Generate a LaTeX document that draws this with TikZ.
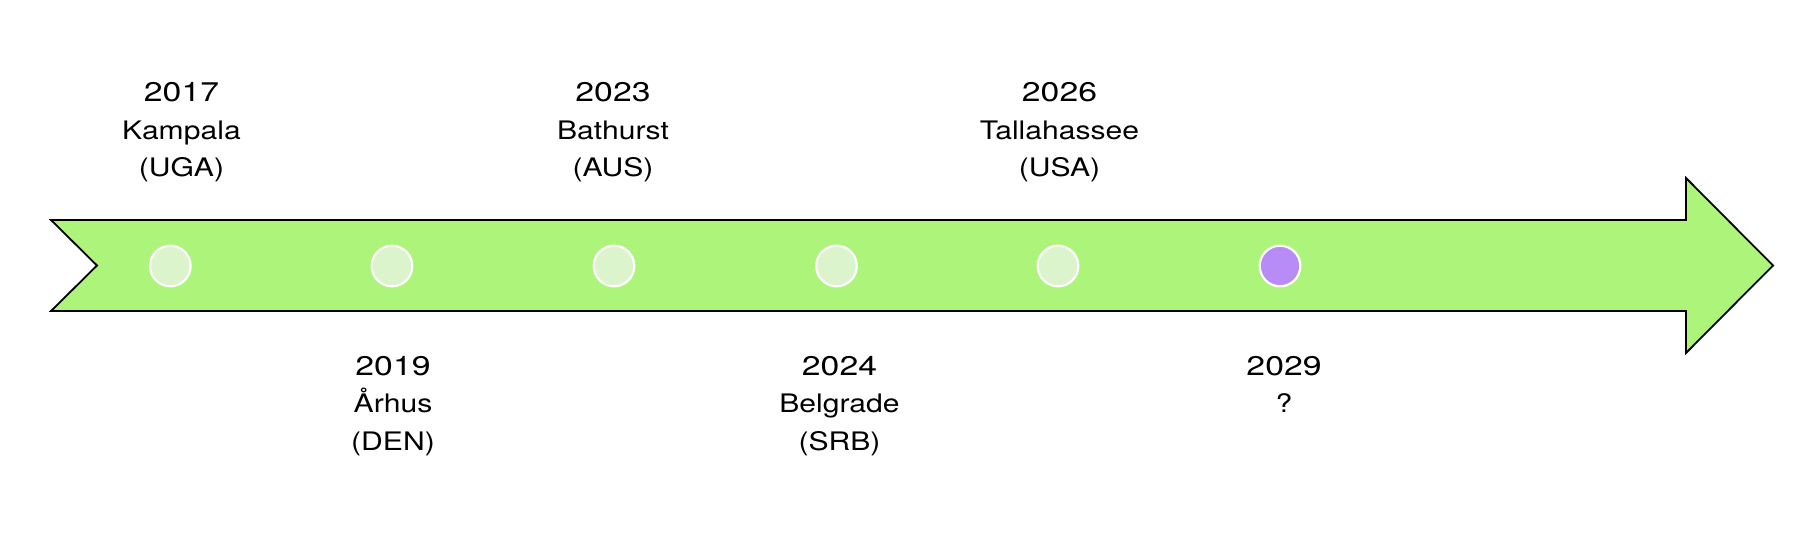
\documentclass[tikz,border=0pt]{standalone}
\usepackage{fontspec}
\setmainfont{TeX Gyre Heros}[FakeStretch=1.18]
\newfontfamily\yearfont{TeX Gyre Heros}[FakeStretch=1.25]
\definecolor{arrowgreen}{HTML}{ADF47A}
\definecolor{dotgreen}{HTML}{DCF4CC}
\definecolor{dotpurple}{HTML}{B78CF7}
\tikzset{
  bigarrow/.style={draw=black, line width=1.8pt, fill=arrowgreen, line join=miter},
  dot/.style={circle, draw=white, line width=2.2pt, fill=dotgreen, minimum size=40.6pt, inner sep=0pt},
  futuredot/.style={dot, fill=dotpurple},
  lbl/.style={align=center, inner sep=0pt, anchor=base, font=\fontsize{25.5}{37.5}\selectfont},
}
\newcommand{\yr}[1]{{\fontsize{27}{37.5}\yearfont #1}}
\begin{document}
\begin{tikzpicture}[x=1pt,y=-1pt]
\useasboundingbox (0,0) rectangle (1807,540);
\draw[bigarrow] (51,220) -- (1686,220) -- (1686,178) -- (1773,265.5)
  -- (1686,353) -- (1686,311) -- (51,311) -- (97,265.5) -- cycle;
\node[dot] (d1) at (170.3,266) {};
\node[dot] (d2) at (392,266) {};
\node[dot] (d3) at (614,266) {};
\node[dot] (d4) at (836.5,266) {};
\node[dot] (d5) at (1058,266) {};
\node[futuredot] (d6) at (1280,266) {};
% base anchor = baseline of the last line
\node[lbl] (l1) at (181.5,177) {\yr{2017}\\Kampala\\(UGA)};
\node[lbl] (l2) at (393,450) {\yr{2019}\\Århus\\(DEN)};
\node[lbl] (l3) at (613,177) {\yr{2023}\\Bathurst\\(AUS)};
\node[lbl] (l4) at (839.5,450) {\yr{2024}\\Belgrade\\(SRB)};
\node[lbl] (l5) at (1059.5,177) {\yr{2026}\\Tallahassee\\(USA)};
\node[lbl] (l6) at (1284,412.5) {\yr{2029}\\?};
\end{tikzpicture}
\end{document}
